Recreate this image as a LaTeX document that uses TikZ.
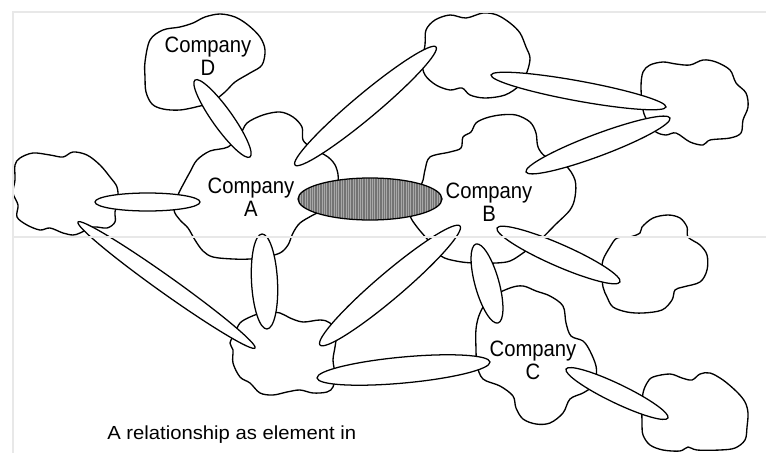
\documentclass[tikz,border=0pt]{standalone}
\usepackage{fontspec}
\setmainfont{Liberation Sans}
\newfontfamily\labelfont[FakeStretch=0.91]{Liberation Sans}
\newfontfamily\captionfont[FakeStretch=1.07]{Liberation Sans}
\usetikzlibrary{shapes.geometric,calc}

\tikzset{
  blob/.style={draw=black, fill=white, line width=1pt, line join=round},
  rel/.style={ellipse, draw=black, fill=white, line width=0.95pt, inner sep=0pt},
  shaded/.style={fill=black!55,
    path picture={
      \foreach \k in {0,...,80}
        \draw[black!34, line width=0.5pt]
          ([xshift=\k*1.8pt-72pt]path picture bounding box.north) --
          ([xshift=\k*1.8pt-72pt]path picture bounding box.south);
    }},
  firmlabel/.style={anchor=north, inner sep=0pt, align=center,
    font=\labelfont\fontsize{16.7}{17.3}\selectfont},
  scanline/.style={draw=black!9, line width=0.8pt},
}

% #1 extra style, #2 name, #3 and #4 the two tips, #5 thickness
\newcommand\relation[5][]{%
  \path let \p1=#3, \p2=#4,
            \n1={atan2(\y2-\y1,\x2-\x1)},
            \n2={veclen(\x2-\x1,\y2-\y1)} in
    node[rel, #1, minimum width=\n2, minimum height=#5*0.75pt, rotate=\n1]
      (#2) at ($#3!0.5!#4$) {};
}

\begin{document}
\begin{tikzpicture}[x=0.75pt, y=-0.75pt]
\useasboundingbox (0,0) rectangle (766,453);

% ---- organisations ----
% Company D
\draw[blob] plot[smooth cycle, tension=0.55] coordinates {
  (145,62) (150,40) (163,30) (180,27) (193,23) (205,17) (220,14) (235,17)
  (248,25) (260,37) (265,50) (262,65) (250,73) (235,82) (225,92) (212,102)
  (200,106) (180,110) (163,109) (152,104) (146,92) (145,77)};
% Company A
\draw[blob] plot[smooth cycle, tension=0.55] coordinates {
  (240,135) (247,123) (263,115) (280,112) (293,117) (302,127) (303,140)
  (312,148) (328,157) (336,167) (338,182) (330,205) (313,215) (300,223)
  (293,233) (288,245) (280,253) (265,257) (250,259) (233,259) (213,257)
  (203,251) (195,240) (188,228) (180,220) (174,210) (178,195) (184,183)
  (190,172) (197,160) (210,151) (228,147)};
% Company B
\draw[blob] plot[smooth cycle, tension=0.55] coordinates {
  (422,183) (425,170) (430,157) (450,152) (461,148) (463,137) (471,132)
  (476,123) (486,118) (500,115) (516,115) (530,122) (536,133) (538,147)
  (546,157) (565,165) (575,180) (575,197) (570,210) (555,225) (540,240)
  (523,253) (510,261) (496,263) (473,263) (456,261) (441,256) (428,240)
  (417,227) (410,215) (412,198)};
% upper middle partner
\draw[blob] plot[smooth cycle, tension=0.55] coordinates {
  (425,45) (426,30) (435,20) (450,15) (466,18) (483,13) (497,15) (510,23)
  (520,33) (526,47) (530,58) (527,72) (520,85) (505,95) (485,98) (470,95)
  (462,88) (450,90) (436,85) (425,75) (422,62)};
% upper right partner
\draw[blob] plot[smooth cycle, tension=0.55] coordinates {
  (641,87) (643,72) (650,65) (663,62) (676,64) (690,65) (703,60) (716,62)
  (730,70) (736,83) (746,93) (748,107) (743,120) (741,133) (730,138)
  (710,140) (703,145) (690,142) (676,133) (666,135) (656,132) (648,122)
  (643,110)};
% left partner
\draw[blob] plot[smooth cycle, tension=0.55] coordinates {
  (15,180) (15,165) (20,158) (33,153) (50,155) (63,157) (73,152) (87,155)
  (100,165) (110,177) (117,187) (118,200) (115,212) (115,222) (107,228)
  (93,227) (80,233) (73,235) (63,233) (50,228) (40,230) (27,225) (17,217)
  (18,205) (13,193)};
% right middle partner
\draw[blob] plot[smooth cycle, tension=0.55] coordinates {
  (603,260) (610,247) (617,238) (630,237) (640,233) (642,227) (653,218)
  (668,215) (680,218) (687,227) (688,237) (700,245) (707,255) (707,270)
  (700,282) (683,287) (675,290) (672,300) (662,310) (643,313) (627,312)
  (613,307) (607,297) (603,287) (602,273)};
% Company C
\draw[blob] plot[smooth cycle, tension=0.55] coordinates {
  (476,329) (480,313) (490,298) (510,288) (523,286) (536,291) (550,296)
  (563,306) (566,323) (571,336) (583,341) (590,351) (596,366) (596,378)
  (593,386) (583,393) (570,399) (563,413) (550,423) (536,424) (523,419)
  (516,408) (513,396) (500,386) (483,379) (477,365) (476,349)};
% lower right partner
\draw[blob] plot[smooth cycle, tension=0.55] coordinates {
  (643,393) (647,383) (653,377) (670,374) (682,378) (692,380) (700,374)
  (710,373) (723,380) (737,392) (745,402) (748,413) (747,427) (745,440)
  (735,448) (720,450) (697,450) (688,447) (680,451) (663,450) (650,445)
  (643,435) (642,423) (642,408)};
% lower middle partner
\draw[blob] plot[smooth cycle, tension=0.55] coordinates {
  (235,333) (240,323) (250,317) (265,312) (280,313) (290,318) (303,322)
  (320,320) (330,323) (336,335) (335,347) (333,360) (335,375) (333,387)
  (327,392) (313,393) (300,390) (287,392) (273,395) (260,393) (250,383)
  (240,377) (233,363) (233,350) (230,343)};

% ---- relationships ----
\relation{relDA}{(195,80)}{(250,157)}{20}
\relation{relAtop}{(295,165)}{(436,47)}{24}
\relation{relAleft}{(95,202)}{(200,202)}{18}
\relation{relTopRight}{(491,75)}{(666,107)}{20}
\relation{relBRightTop}{(526,172)}{(670,118)}{22}
\relation{relBRightMid}{(497,228)}{(620,282)}{22}
\relation{relBC}{(476,244)}{(498,323)}{24}
\relation{relBLow}{(320,345)}{(460,226)}{26}
\relation{relLowC}{(317,378)}{(490,362)}{26}
\relation{relCRight}{(566,369)}{(668,418)}{19}
\relation{relALow}{(262,234)}{(267,329)}{26}
\relation{relLeftLow}{(78,222)}{(255,348)}{17}
% the highlighted relationship between A and B
\relation[shaded]{relAB}{(298,199)}{(442,199)}{42}

% ---- labels ----
\node[firmlabel] (labD) at (208,37)  {Company\\D};
\node[firmlabel] (labA) at (251,178) {Company\\A};
\node[firmlabel] (labB) at (489,183) {Company\\B};
\node[firmlabel] (labC) at (533,341) {Company\\C};
\node[anchor=base west, inner sep=0pt,
      font=\captionfont\fontsize{14.2}{16}\selectfont]
  (caption) at (107,439) {A relationship as element in};

% faint frame lines
\draw[scanline] (13,453) -- (13,12) -- (766,12);
\draw[scanline] (13,237) -- (766,237);
\end{tikzpicture}
\end{document}
